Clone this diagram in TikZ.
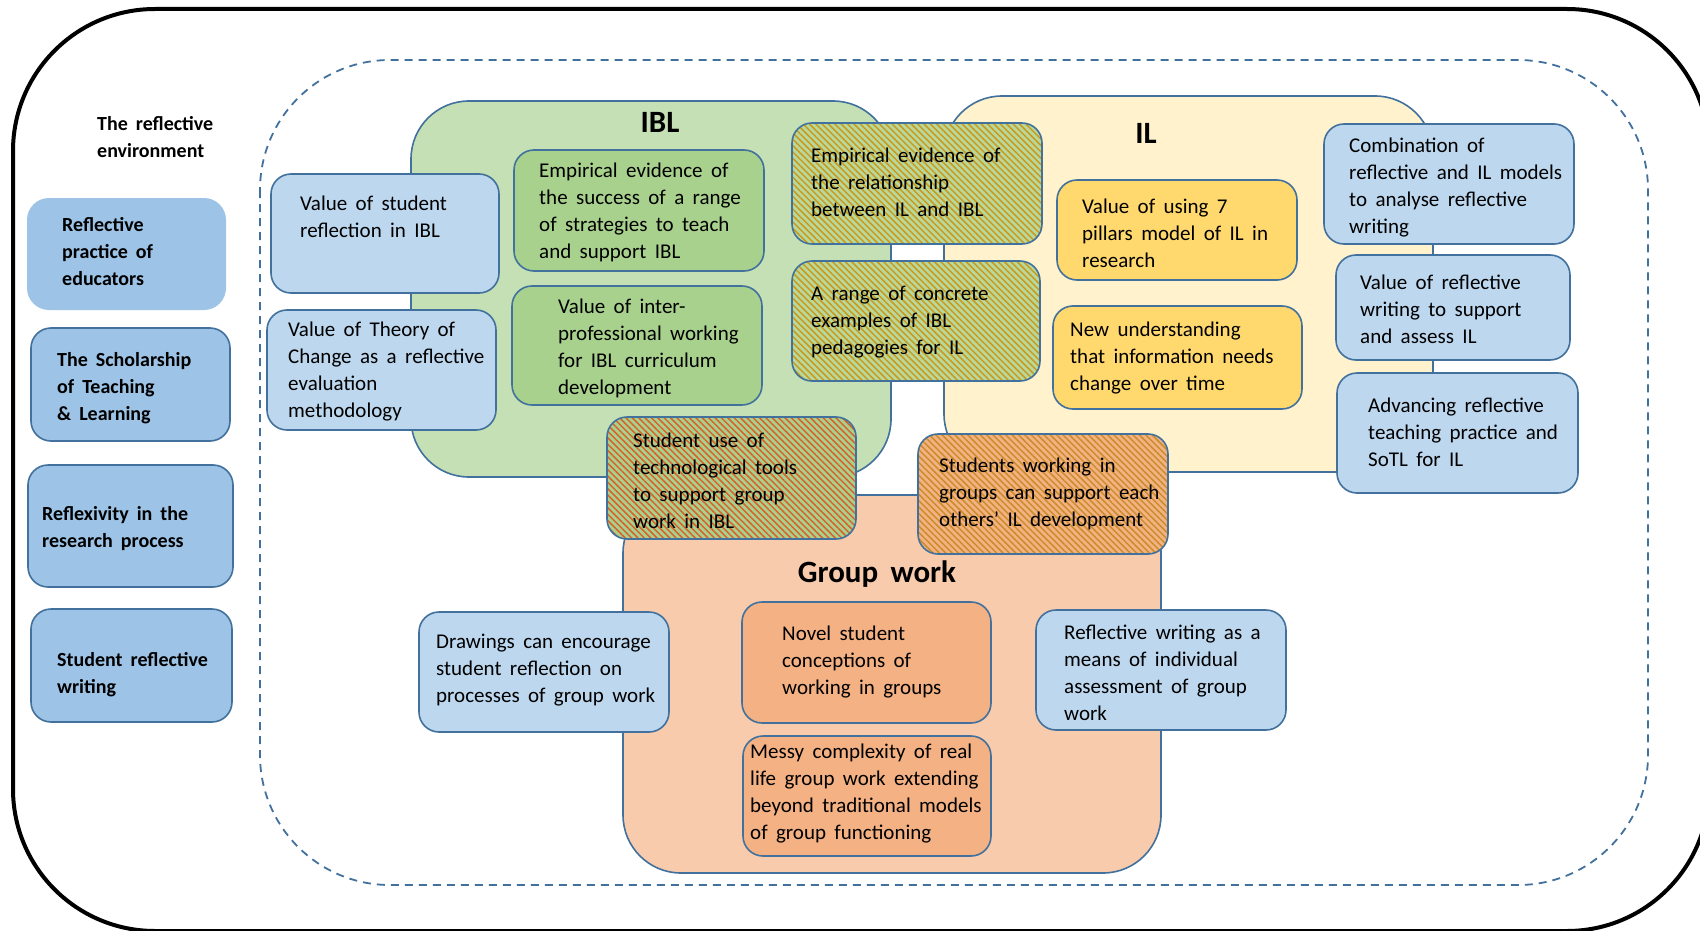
\documentclass[tikz,border=0pt]{standalone}
\usepackage{fontspec}
\setmainfont{Carlito}
\usetikzlibrary{patterns.meta}

\definecolor{edge}{HTML}{41719C}
\definecolor{sideblue}{HTML}{9DC3E6}
\definecolor{cardblue}{HTML}{BDD7EE}
\definecolor{iblzone}{HTML}{C5E0B4}
\definecolor{iblcard}{HTML}{A9D18E}
\definecolor{ilzone}{HTML}{FFF2CC}
\definecolor{ilcard}{HTML}{FFD96E}
\definecolor{gwzone}{HTML}{F8CBAD}
\definecolor{gwcard}{HTML}{F4B183}
\definecolor{mixgreen}{HTML}{B8D89C}
\definecolor{stripegold}{HTML}{C99A1E}
\definecolor{stripered}{HTML}{D9622B}
\definecolor{stripeamber}{HTML}{C98E2A}

\newcommand\bodyfont{\fontsize{21}{27}\selectfont\spaceskip=0.4em plus 0.1em\relax}
\newcommand\sidefont{\fontsize{20}{27}\bfseries\spaceskip=0.4em plus 0.1em\relax}
\newcommand\titlefont{\fontsize{31}{34}\bfseries\spaceskip=0.4em plus 0.1em\relax}

% #1 name, #2 x of text left edge, #3 baseline of first line, #4 font, #5 lines
\newcommand\cardtext[5]{%
  \node[anchor=base west, inner sep=0pt] (#1) at (#2,#3)
    {\parbox[t]{270pt}{#4\raggedright #5}};}

\tikzset{
  zone/.style={draw=edge, line width=1.6pt, rounded corners=58pt},
  card/.style={draw=edge, line width=1.6pt, rounded corners=20pt},
  hatched/.style 2 args={card, preaction={fill=#1},
    pattern={Lines[angle=-45, distance=4.5pt, line width=1.5pt]},
    pattern color=#2},
}

\begin{document}
\begin{tikzpicture}[x=1pt, y=-1pt]
\useasboundingbox (0,0) rectangle (1700,931);
\fill[white] (0,0) rectangle (1700,931);

% outer frame and the dashed research field
\draw[line width=4pt, rounded corners=142pt] (13,9) rectangle (1709,931);
\draw[edge, line width=1.8pt, dash pattern=on 8pt off 6pt, rounded corners=130pt]
  (260,60) rectangle (1648,885);

% the reflective environment
\node[anchor=base west, inner sep=0pt] (envtitle) at (97,131)
  {\parbox[t]{200pt}{\sidefont\raggedright The reflective\\environment}};

\fill[sideblue, rounded corners=22pt] (27,198) rectangle (226,310);
\path[card, fill=sideblue] (31,328) rectangle (230,441);
\path[card, fill=sideblue] (28,465) rectangle (233,587);
\path[card, fill=sideblue] (31,609) rectangle (232,722);
\cardtext{side1}{62}{231}{\sidefont}{Reflective\\practice of\\educators}
\cardtext{side2}{57}{366}{\sidefont}{The Scholarship\\of Teaching\\\& Learning}
\cardtext{side3}{42}{520}{\sidefont}{Reflexivity in the\\research process}
\cardtext{side4}{57}{666}{\sidefont}{Student reflective\\writing}

% the three themes
\path[zone, fill=iblzone] (411,101) rectangle (891,477);
\path[zone, fill=ilzone] (944,96) rectangle (1433,472);
\path[zone, fill=gwzone] (623,495) rectangle (1161,873);
\node[anchor=base, inner sep=0pt] (ibltitle) at (660,133) {\titlefont IBL};
\node[anchor=base, inner sep=0pt] (iltitle) at (1146,143) {\titlefont IL};
\node[anchor=base, inner sep=0pt] (gwtitle) at (877,582) {\titlefont Group work};

% IBL cards
\path[card, fill=cardblue] (271,174) rectangle (499,293);
\path[card, fill=cardblue] (267,310) rectangle (496,430);
\path[card, fill=iblcard] (514,150) rectangle (764,271);
\path[card, fill=iblcard] (512,286) rectangle (762,405);
\cardtext{ibl1}{300}{210}{\bodyfont}{Value of student\\reflection in IBL}
\cardtext{ibl2}{288}{336}{\bodyfont}{Value of Theory of\\Change as a reflective\\evaluation\\methodology}
\cardtext{ibl3}{539}{178}{\bodyfont}{Empirical evidence of\\the success of a range\\of strategies to teach\\and support IBL}
\cardtext{ibl4}{558}{313}{\bodyfont}{Value of inter-\\professional working\\for IBL curriculum\\development}

% IBL and IL overlap
\path[hatched={mixgreen}{stripegold}] (792,123) rectangle (1042,244);
\path[hatched={mixgreen}{stripegold}] (792,261) rectangle (1040,381);
\cardtext{both1}{811}{163}{\bodyfont}{Empirical evidence of\\the relationship\\between IL and IBL}
\cardtext{both2}{811}{300}{\bodyfont}{A range of concrete\\examples of IBL\\pedagogies for IL}

% IL cards
\path[card, fill=ilcard] (1057,180) rectangle (1297,280);
\path[card, fill=ilcard] (1053,306) rectangle (1302,409);
\cardtext{il1}{1082}{213}{\bodyfont}{Value of using 7\\pillars model of IL in\\research}
\cardtext{il2}{1070}{336}{\bodyfont}{New understanding\\that information needs\\change over time}

\path[card, fill=cardblue] (1324,124) rectangle (1574,244);
\path[card, fill=cardblue] (1336,255) rectangle (1570,360);
\path[card, fill=cardblue] (1337,373) rectangle (1578,493);
\cardtext{il3}{1349}{153}{\bodyfont}{Combination of\\reflective and IL models\\to analyse reflective\\writing}
\cardtext{il4}{1360}{289}{\bodyfont}{Value of reflective\\writing to support\\and assess IL}
\cardtext{il5}{1368}{412}{\bodyfont}{Advancing reflective\\teaching practice and\\SoTL for IL}

% group work overlaps
\path[hatched={iblcard}{stripered}] (607,417) rectangle (856,539);
\path[hatched={gwcard}{stripeamber}] (918,434) rectangle (1168,554);
\cardtext{gwibl}{633}{447}{\bodyfont}{Student use of\\technological tools\\to support group\\work in IBL}
\cardtext{gwil}{939}{472}{\bodyfont}{Students working in\\groups can support each\\others’ IL development}

% group work cards
\path[card, fill=cardblue] (419,612) rectangle (669,732);
\path[card, fill=gwcard] (742,602) rectangle (991,723);
\path[card, fill=cardblue] (1036,610) rectangle (1286,730);
\path[card, fill=gwcard] (743,736) rectangle (991,856);
\cardtext{gw1}{436}{648}{\bodyfont}{Drawings can encourage\\student reflection on\\processes of group work}
\cardtext{gw2}{782}{640}{\bodyfont}{Novel student\\conceptions of\\working in groups}
\cardtext{gw3}{1064}{639}{\bodyfont}{Reflective writing as a\\means of individual\\assessment of group\\work}
\cardtext{gw4}{750}{758}{\bodyfont}{Messy complexity of real\\life group work extending\\beyond traditional models\\of group functioning}
\end{tikzpicture}
\end{document}
